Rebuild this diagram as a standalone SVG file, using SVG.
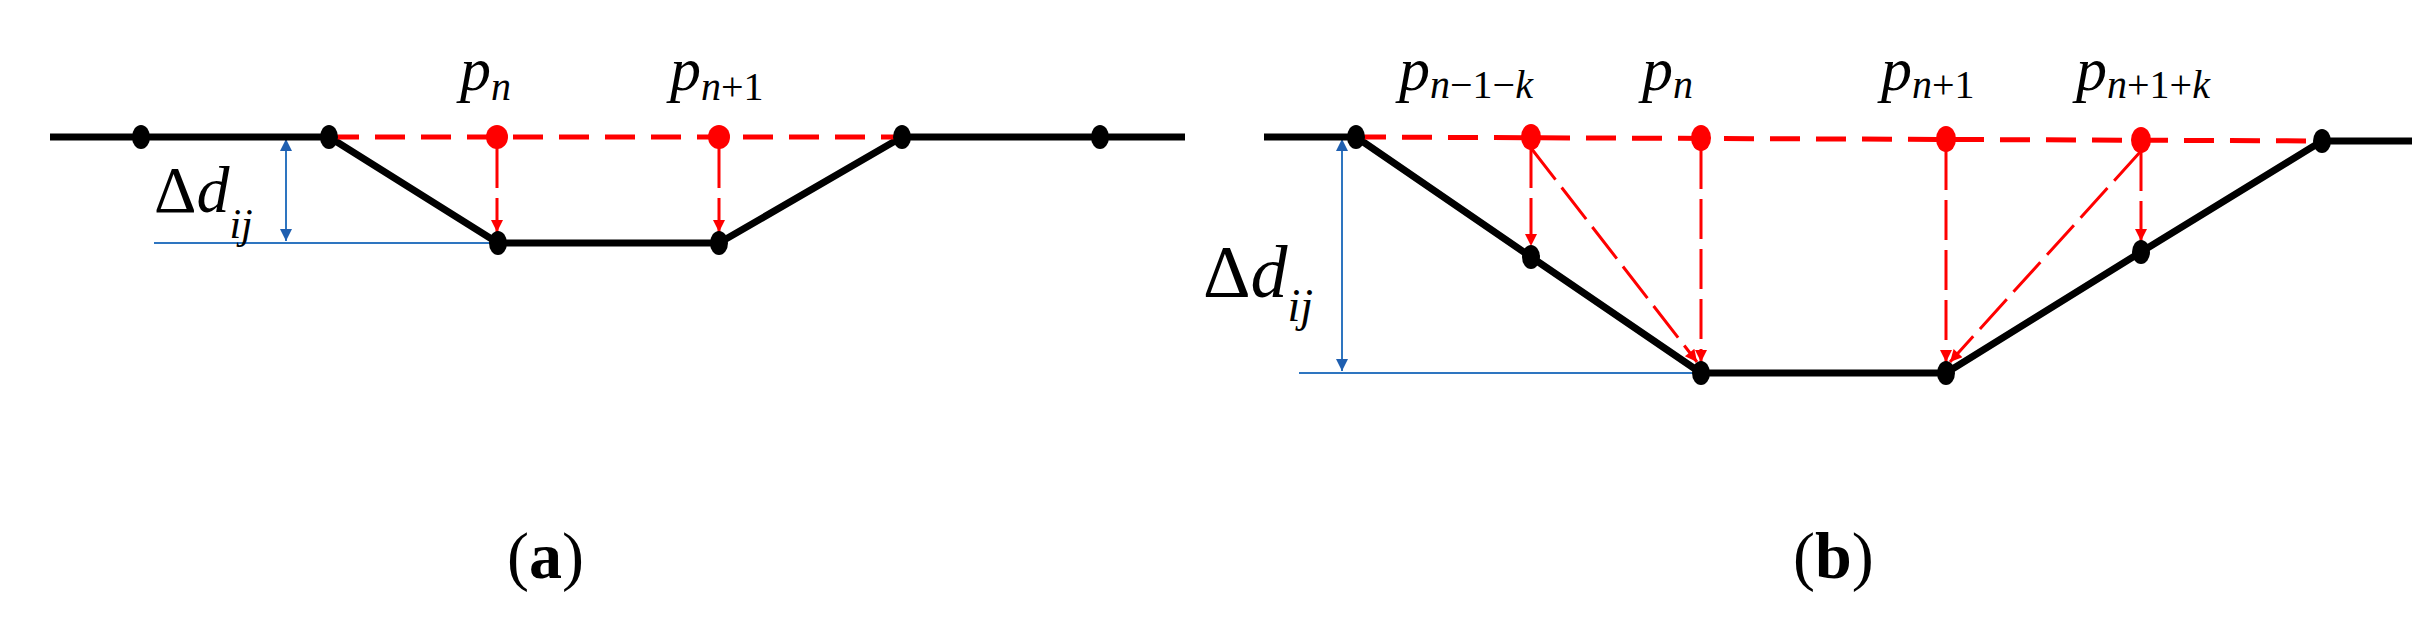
<svg xmlns="http://www.w3.org/2000/svg" width="2424" height="629" viewBox="0 0 2424 629">
<style>
.blk{stroke:#000;stroke-width:7;fill:none;stroke-linejoin:round}
.rt{stroke:#f00;stroke-width:5;stroke-dasharray:30 16;fill:none}
.rv{stroke:#f00;stroke-width:3;stroke-dasharray:40 10;fill:none;marker-end:url(#ra)}
.bl{stroke:#2e75c0;stroke-width:2;fill:none}
.ba{stroke:#2e75c0;stroke-width:2;fill:none;marker-start:url(#bs);marker-end:url(#be)}
.kd{fill:#000}
.rd{fill:#f00}
.m{font-family:"Liberation Serif","DejaVu Serif",serif;font-style:italic}
.c{font-family:"Liberation Serif","DejaVu Serif",serif}
</style>
<defs>
<marker id="ra" viewBox="0 0 10 10" refX="10" refY="5" markerWidth="16" markerHeight="12" orient="auto" markerUnits="userSpaceOnUse"><path d="M0,0L10,5L0,10z" fill="#f00"/></marker>
<marker id="be" viewBox="0 0 10 10" refX="10" refY="5" markerWidth="16" markerHeight="12" orient="auto" markerUnits="userSpaceOnUse"><path d="M0,0L10,5L0,10z" fill="#1f5fb0"/></marker>
<marker id="bs" viewBox="0 0 10 10" refX="0" refY="5" markerWidth="16" markerHeight="12" orient="auto" markerUnits="userSpaceOnUse"><path d="M10,0L0,5L10,10z" fill="#1f5fb0"/></marker>
</defs>
<g id="connectors">
<line class="bl" x1="154" y1="243" x2="498" y2="243"/>
<line class="ba" x1="286" y1="139" x2="286" y2="241"/>
<polyline class="blk" points="50,137 329,137 498,243 719,243 902,137 1185,137"/>
<line class="rt" x1="329" y1="137" x2="902" y2="137"/>
<line class="rv" x1="497" y1="148" x2="497" y2="232"/>
<line class="rv" x1="719" y1="148" x2="719" y2="232"/>
<line class="bl" x1="1299" y1="373" x2="1701" y2="373"/>
<line class="ba" x1="1342" y1="139" x2="1342" y2="371"/>
<polyline class="blk" points="1264,137 1356,137 1531,257 1701,373 1946,373 2141,252 2322,141 2412,141"/>
<line class="rt" x1="1356" y1="137" x2="2322" y2="141"/>
<line class="rv" x1="1531" y1="148" x2="1531" y2="246"/>
<line class="rv" x1="1531" y1="148" x2="1697" y2="362"/>
<line class="rv" x1="1701" y1="149" x2="1701" y2="362"/>
<line class="rv" x1="1946" y1="150" x2="1946" y2="362"/>
<line class="rv" x1="2141" y1="151" x2="2141" y2="241"/>
<line class="rv" x1="2141" y1="151" x2="1950" y2="362"/>
</g>
<g id="nodes-a">
<ellipse class="kd" cx="141" cy="137" rx="9" ry="12"/>
<ellipse class="kd" cx="329" cy="137" rx="9" ry="12"/>
<ellipse class="kd" cx="498" cy="243" rx="9" ry="12"/>
<ellipse class="kd" cx="719" cy="243" rx="9" ry="12"/>
<ellipse class="kd" cx="902" cy="137" rx="9" ry="12"/>
<ellipse class="kd" cx="1100" cy="137" rx="9" ry="12"/>
<ellipse class="rd" cx="497" cy="137" rx="11" ry="12"/>
<ellipse class="rd" cx="719" cy="137" rx="11" ry="12"/>
</g>
<g id="nodes-b">
<ellipse class="kd" cx="1356" cy="137" rx="9" ry="12"/>
<ellipse class="kd" cx="1531" cy="257" rx="9" ry="12"/>
<ellipse class="kd" cx="1701" cy="373" rx="9" ry="12"/>
<ellipse class="kd" cx="1946" cy="373" rx="9" ry="12"/>
<ellipse class="kd" cx="2141" cy="252" rx="9" ry="12"/>
<ellipse class="kd" cx="2322" cy="141" rx="9" ry="12"/>
<ellipse class="rd" cx="1531" cy="137" rx="10" ry="13"/>
<ellipse class="rd" cx="1701" cy="138" rx="10" ry="13"/>
<ellipse class="rd" cx="1946" cy="139" rx="10" ry="13"/>
<ellipse class="rd" cx="2141" cy="140" rx="10" ry="13"/>
</g>
<g id="labels">
<text class="m" x="460" y="90" font-size="62">p<tspan font-size="40" dy="10">n</tspan></text>
<text class="m" x="670" y="90" font-size="62">p<tspan font-size="40" dy="10">n</tspan><tspan font-style="normal" font-size="40">+1</tspan></text>
<text class="m" x="154" y="212" font-size="66"><tspan font-style="normal">Δ</tspan>d<tspan font-size="42" dy="26">ij</tspan></text>
<text class="m" x="1399" y="90" font-size="62">p<tspan font-size="40" dy="8">n</tspan><tspan font-style="normal" font-size="40">−1−</tspan><tspan font-size="40">k</tspan></text>
<text class="m" x="1642" y="90" font-size="62">p<tspan font-size="40" dy="8">n</tspan></text>
<text class="m" x="1881" y="90" font-size="62">p<tspan font-size="40" dy="8">n</tspan><tspan font-style="normal" font-size="40">+1</tspan></text>
<text class="m" x="2076" y="90" font-size="62">p<tspan font-size="40" dy="8">n</tspan><tspan font-style="normal" font-size="40">+1+</tspan><tspan font-size="40">k</tspan></text>
<text class="m" x="1203" y="297" font-size="74"><tspan font-style="normal">Δ</tspan>d<tspan font-size="46" dy="24">ij</tspan></text>
<text class="c" x="507" y="578" font-size="66">(<tspan font-weight="bold">a</tspan>)</text>
<text class="c" x="1793" y="578" font-size="66">(<tspan font-weight="bold">b</tspan>)</text>
</g>
</svg>
